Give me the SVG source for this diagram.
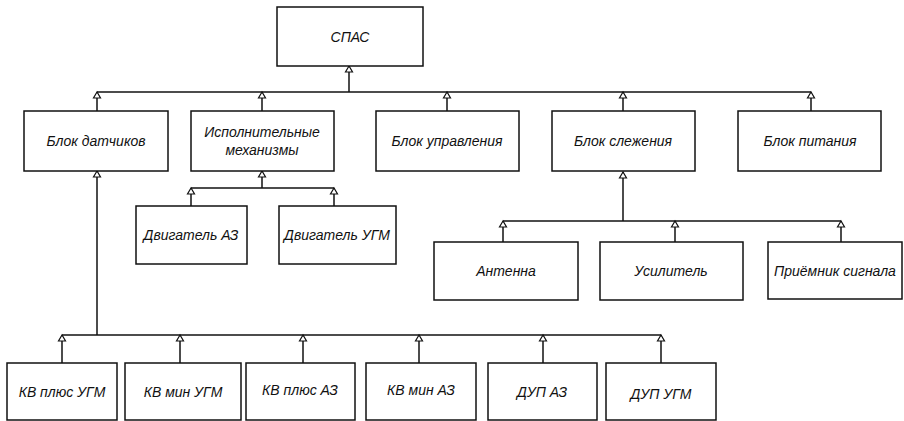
<svg xmlns="http://www.w3.org/2000/svg" width="904" height="421" viewBox="0 0 904 421">
<style>
.box{fill:#fff;stroke:#111;stroke-width:1.5}
.lbl{font-family:"Liberation Sans",Arial,sans-serif;font-style:italic;font-size:14px;fill:#111;text-anchor:middle;dominant-baseline:central}
.ln{fill:none;stroke:#111;stroke-width:1.5}
.ar{fill:none;stroke:#111;stroke-width:1.5;marker-end:url(#tri)}
</style>
<defs>
<marker id="tri" markerUnits="userSpaceOnUse" markerWidth="10" markerHeight="10" viewBox="-8 -5 10 10" refX="0" refY="0" orient="auto">
<path d="M0,0 L-6,-3.5 L-6,3.5 Z" fill="#fff" stroke="#111" stroke-width="1.2"/>
</marker>
</defs>
<rect width="904" height="421" fill="#fff"/>
<g id="connectors">
<!-- top level -->
<path class="ar" d="M349,92 L349,66"/>
<path class="ln" d="M97,92 L811,92"/>
<path class="ar" d="M97,111 L97,92"/>
<path class="ar" d="M262,111 L262,92"/>
<path class="ar" d="M447,111 L447,92"/>
<path class="ar" d="M623,111 L623,92"/>
<path class="ar" d="M811,111 L811,92"/>
<!-- actuators -->
<path class="ar" d="M262,188 L262,171"/>
<path class="ln" d="M191,188 L334,188"/>
<path class="ar" d="M191,206 L191,188"/>
<path class="ar" d="M334,206 L334,188"/>
<!-- tracking -->
<path class="ar" d="M623,221 L623,172"/>
<path class="ln" d="M503,221 L841,221"/>
<path class="ar" d="M503,242 L503,221"/>
<path class="ar" d="M675,242 L675,221"/>
<path class="ar" d="M841,242 L841,221"/>
<!-- sensors -->
<path class="ar" d="M97,335 L97,171"/>
<path class="ln" d="M62,335 L661,335"/>
<path class="ar" d="M62,363 L62,335"/>
<path class="ar" d="M180,363 L180,335"/>
<path class="ar" d="M303,363 L303,335"/>
<path class="ar" d="M419,363 L419,335"/>
<path class="ar" d="M543,363 L543,335"/>
<path class="ar" d="M661,363 L661,335"/>
</g>
<g id="spas"><rect class="box" x="277" y="7" width="146" height="59"/><text class="lbl" x="350" y="37">СПАС</text></g>
<g id="blok-datchikov"><rect class="box" x="24" y="111" width="144" height="60"/><text class="lbl" x="96" y="141">Блок датчиков</text></g>
<g id="ispolnitelnye"><rect class="box" x="191" y="111" width="143" height="60"/><text class="lbl" x="262" y="132">Исполнительные</text><text class="lbl" x="262" y="150">механизмы</text></g>
<g id="blok-upravleniya"><rect class="box" x="376" y="111" width="143" height="60"/><text class="lbl" x="447" y="141">Блок управления</text></g>
<g id="blok-slezheniya"><rect class="box" x="552" y="111" width="143" height="60"/><text class="lbl" x="623" y="141">Блок слежения</text></g>
<g id="blok-pitaniya"><rect class="box" x="738" y="111" width="143" height="60"/><text class="lbl" x="810" y="141">Блок питания</text></g>
<g id="dvig-az"><rect class="box" x="136" y="206" width="111" height="58"/><text class="lbl" x="191" y="235">Двигатель АЗ</text></g>
<g id="dvig-ugm"><rect class="box" x="279" y="206" width="117" height="58"/><text class="lbl" x="337" y="235">Двигатель УГМ</text></g>
<g id="antenna"><rect class="box" x="434" y="242" width="144" height="58"/><text class="lbl" x="506" y="271">Антенна</text></g>
<g id="usilitel"><rect class="box" x="600" y="242" width="143" height="58"/><text class="lbl" x="671" y="271">Усилитель</text></g>
<g id="priemnik"><rect class="box" x="768" y="242" width="134" height="57"/><text class="lbl" x="835" y="271">Приёмник сигнала</text></g>
<g id="kv-plus-ugm"><rect class="box" x="7" y="363" width="110" height="57"/><text class="lbl" x="62" y="392">КВ плюс УГМ</text></g>
<g id="kv-min-ugm"><rect class="box" x="125" y="363" width="116" height="57"/><text class="lbl" x="183" y="392">КВ мин УГМ</text></g>
<g id="kv-plus-az"><rect class="box" x="246" y="363" width="109" height="57"/><text class="lbl" x="300" y="390">КВ плюс АЗ</text></g>
<g id="kv-min-az"><rect class="box" x="366" y="363" width="110" height="57"/><text class="lbl" x="421" y="390">КВ мин АЗ</text></g>
<g id="dup-az"><rect class="box" x="488" y="363" width="109" height="57"/><text class="lbl" x="542" y="392">ДУП АЗ</text></g>
<g id="dup-ugm"><rect class="box" x="606" y="363" width="110" height="57"/><text class="lbl" x="661" y="394">ДУП УГМ</text></g>
</svg>
